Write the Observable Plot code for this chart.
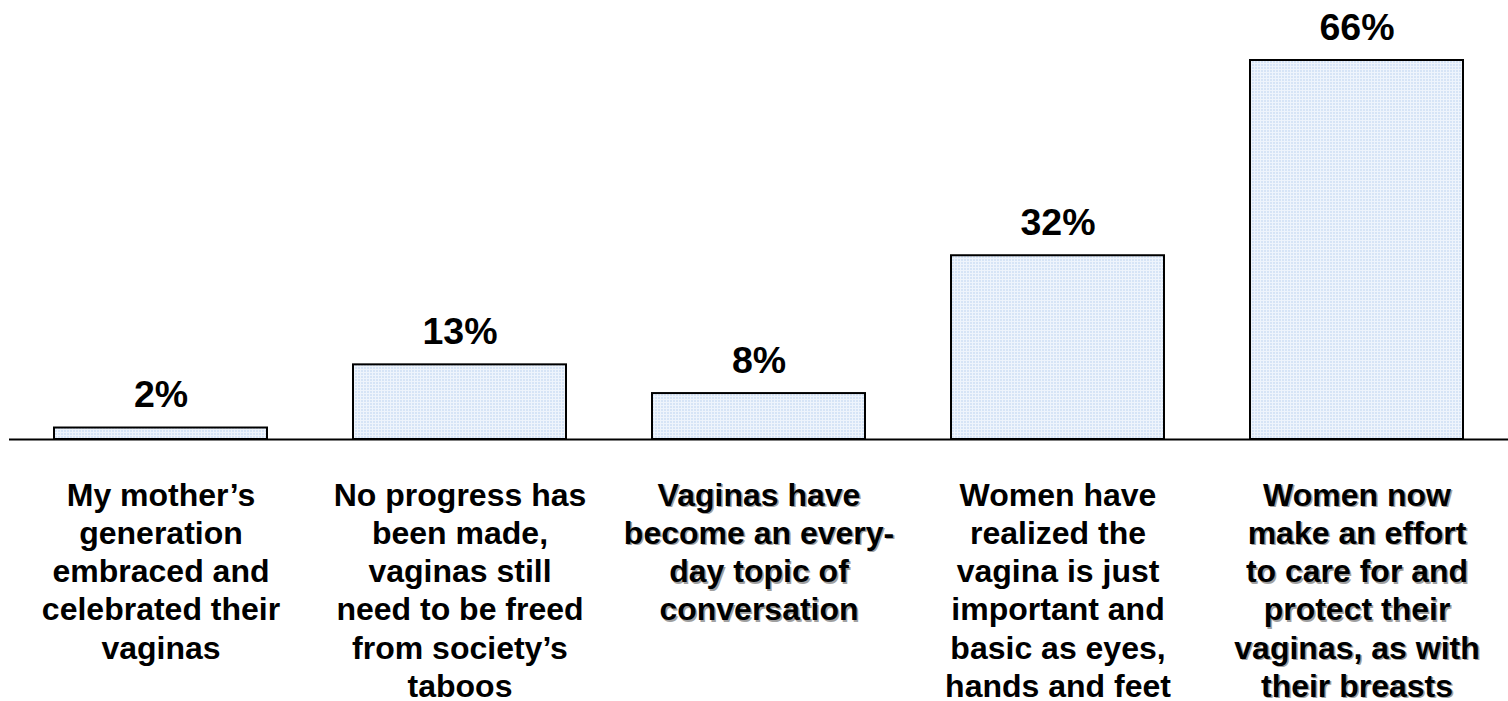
<!DOCTYPE html>
<html>
<head>
<meta charset="utf-8">
<script src="https://cdn.jsdelivr.net/npm/d3@7"></script>
<script src="https://cdn.jsdelivr.net/npm/@observablehq/plot@0.6"></script>
<style>
  html, body { margin: 0; padding: 0; background: #fff; }
  #chart { width: 1508px; height: 701px; }
</style>
</head>
<body>
<div id="chart"></div>
<script>
const categories = [
  "My mother’s\ngeneration\nembraced and\ncelebrated their\nvaginas",
  "No progress has\nbeen made,\nvaginas still\nneed to be freed\nfrom society’s\ntaboos",
  "Vaginas have\nbecome an every-\nday topic of\nconversation",
  "Women have\nrealized the\nvagina is just\nimportant and\nbasic as eyes,\nhands and feet",
  "Women now\nmake an effort\nto care for and\nprotect their\nvaginas, as with\ntheir breasts"
];
const values = [2, 13, 8, 32, 66];
const shadowed = [false, false, true, false, true];

const data = categories.map((c, i) => ({cat: c, value: values[i], label: values[i] + "%", shadow: shadowed[i]}));

const font = "'Liberation Sans', Arial, Helvetica, sans-serif";

const chart = Plot.plot({
  width: 1508,
  height: 701,
  marginLeft: 9,
  marginRight: 0,
  marginTop: 60,
  marginBottom: 262,
  style: {fontFamily: font, background: "#fff", overflow: "visible"},
  x: {domain: categories, paddingInner: 0.2867, paddingOuter: 0.1433, axis: null},
  y: {domain: [0, 66], axis: null},
  marks: [
    Plot.barY(data, {x: "cat", y: "value", fill: "url(#dotfill)", stroke: "#000", strokeWidth: 2}),
    Plot.ruleY([0], {stroke: "#000", strokeWidth: 2}),
    Plot.text(data, {x: "cat", y: "value", text: "label", dy: -33, lineAnchor: "middle", fontSize: 37.5, fontWeight: "bold", fill: "#000"}),
    Plot.text(data.filter(d => d.shadow), {x: "cat", y: 0, text: "cat", dy: 40.5, dx: 1.5, lineAnchor: "top", fontSize: 32, lineHeight: 1.195, fontWeight: "bold", fill: "#a0a0a0"}),
    Plot.text(data, {x: "cat", y: 0, text: "cat", dy: 39, lineAnchor: "top", fontSize: 32, lineHeight: 1.195, fontWeight: "bold", fill: "#000"})
  ]
});

// dotted light-blue pattern fill for bars
const ns = "http://www.w3.org/2000/svg";
const svg = chart.tagName.toLowerCase() === "svg" ? chart : chart.querySelector("svg");
const defs = document.createElementNS(ns, "defs");
const pat = document.createElementNS(ns, "pattern");
pat.setAttribute("id", "dotfill");
pat.setAttribute("width", "3");
pat.setAttribute("height", "3");
pat.setAttribute("patternUnits", "userSpaceOnUse");
const bg = document.createElementNS(ns, "rect");
bg.setAttribute("width", "3"); bg.setAttribute("height", "3"); bg.setAttribute("fill", "#d6e4f6");
const dot1 = document.createElementNS(ns, "rect");
dot1.setAttribute("width", "1"); dot1.setAttribute("height", "3"); dot1.setAttribute("fill", "#eef4fc");
const dot2 = document.createElementNS(ns, "rect");
dot2.setAttribute("width", "3"); dot2.setAttribute("height", "1"); dot2.setAttribute("fill", "#eef4fc");
pat.appendChild(bg); pat.appendChild(dot1); pat.appendChild(dot2);
defs.appendChild(pat);
svg.insertBefore(defs, svg.firstChild);

document.getElementById("chart").appendChild(chart);
</script>
</body>
</html>
